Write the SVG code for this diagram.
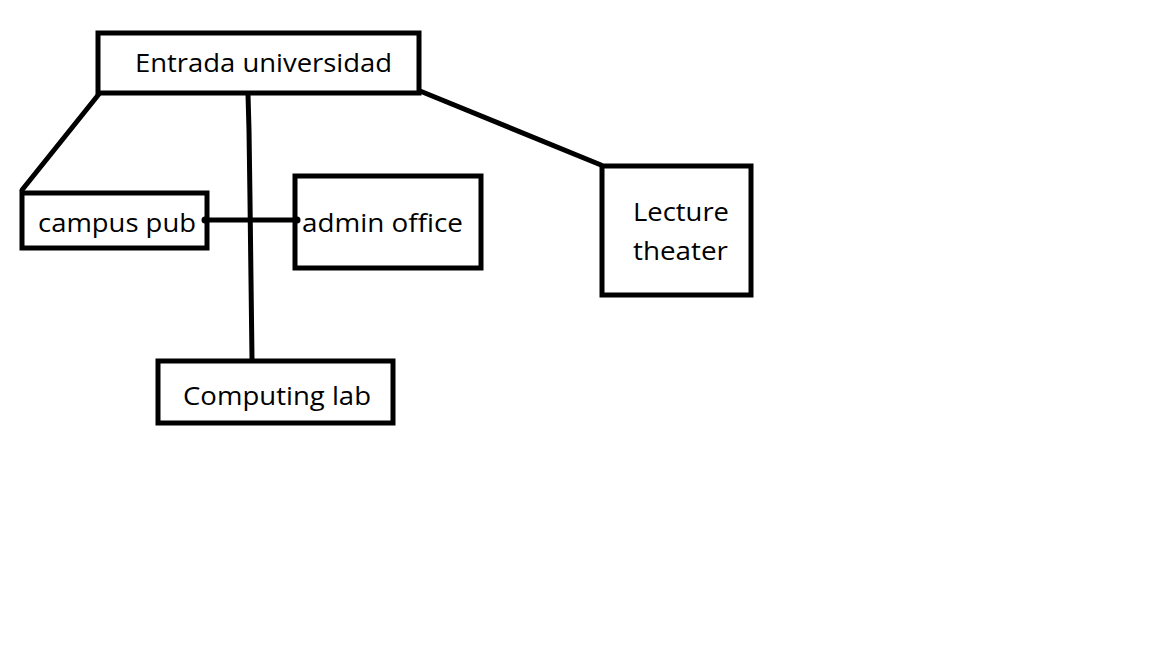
<svg xmlns="http://www.w3.org/2000/svg" width="1152" height="648" viewBox="0 0 1152 648">
<style>
.box{fill:#fff;stroke:#000;stroke-width:5}
.lbl{font-family:"Open Sans","Noto Sans","Liberation Sans",sans-serif;font-size:26px;fill:#000}
.edge{stroke:#000;stroke-width:5;fill:none;stroke-linecap:round}
</style>
<rect width="1152" height="648" fill="#fff"/>
<g id="connectors">
<line class="edge" x1="99" y1="94" x2="22" y2="190"/>
<polyline class="edge" points="248,94 249,130 250,200 251,280 252,359"/>
<line class="edge" x1="205" y1="220" x2="297" y2="220"/>
<line class="edge" x1="420" y1="91" x2="601" y2="165"/>
</g>
<g id="entrada">
<rect class="box" x="98" y="33" width="321" height="60"/>
<text class="lbl" x="135" y="72" textLength="257" lengthAdjust="spacingAndGlyphs">Entrada universidad</text>
</g>
<g id="campus-pub">
<rect class="box" x="22" y="193" width="185" height="55"/>
<text class="lbl" x="38" y="232" textLength="158" lengthAdjust="spacingAndGlyphs">campus pub</text>
</g>
<g id="admin-office">
<rect class="box" x="295" y="176" width="186" height="92"/>
<text class="lbl" x="302" y="232" textLength="161" lengthAdjust="spacingAndGlyphs">admin office</text>
</g>
<g id="lecture-theater">
<rect class="box" x="602" y="166" width="149" height="129"/>
<text class="lbl" x="633" y="221" textLength="96" lengthAdjust="spacingAndGlyphs">Lecture</text>
<text class="lbl" x="633" y="260" textLength="95" lengthAdjust="spacingAndGlyphs">theater</text>
</g>
<g id="computing-lab">
<rect class="box" x="158" y="361" width="235" height="62"/>
<text class="lbl" x="183" y="405" textLength="188" lengthAdjust="spacingAndGlyphs">Computing lab</text>
</g>
<g id="dots">
<circle cx="205" cy="220" r="3.5"/>
<circle cx="297" cy="220" r="3.5"/>
</g>
</svg>
